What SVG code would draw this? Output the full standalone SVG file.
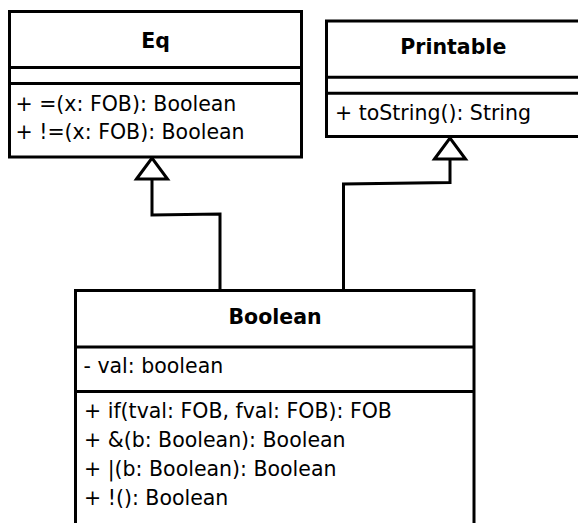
<svg xmlns="http://www.w3.org/2000/svg" width="578" height="523" viewBox="0 0 578 523">
  <style>
    .box { fill: #ffffff; stroke: #000000; stroke-width: 3; }
    .sep { stroke: #000000; stroke-width: 3; fill: none; }
    .conn { stroke: #000000; stroke-width: 3; fill: none; }
    text { font-family: "DejaVu Sans", "Liberation Sans", sans-serif; font-size: 20.5px; fill: #000000; }
    .title { font-weight: bold; text-anchor: middle; }
  </style>
  <defs>
    <marker id="hollow" markerUnits="userSpaceOnUse" viewBox="-3 -19 27 38" markerWidth="27" markerHeight="38" refX="21" refY="0" orient="auto-start-reverse">
      <path d="M0,-15.5 L21,0 L0,15.5 Z" fill="#ffffff" stroke="#000000" stroke-width="3"/>
    </marker>
  </defs>
  <rect width="578" height="523" fill="#ffffff"/>

  <g id="connectors">
    <path class="conn" d="M152,158 L152,215 L220,214 L220,290" marker-start="url(#hollow)"/>
    <path class="conn" d="M450,138 L450,182.5 L343.5,184 L343.5,290" marker-start="url(#hollow)"/>
  </g>

  <g id="Eq">
    <rect class="box" x="9.5" y="11.5" width="292" height="145.5"/>
    <line class="sep" x1="9.5" y1="67.5" x2="301.5" y2="67.5"/>
    <line class="sep" x1="9.5" y1="83.5" x2="301.5" y2="83.5"/>
    <text class="title" x="155.5" y="48">Eq</text>
    <text x="15.5" y="110.5">+ =(x: FOB): Boolean</text>
    <text x="15.5" y="139">+ !=(x: FOB): Boolean</text>
  </g>

  <g id="Printable">
    <rect class="box" x="326.5" y="21" width="253.5" height="115.5"/>
    <line class="sep" x1="326.5" y1="77.3" x2="580" y2="77.3"/>
    <line class="sep" x1="326.5" y1="93.3" x2="580" y2="93.3"/>
    <text class="title" x="453.3" y="54">Printable</text>
    <text x="335" y="120">+ toString(): String</text>
  </g>

  <g id="Boolean">
    <rect class="box" x="75.5" y="290.5" width="398.5" height="245"/>
    <line class="sep" x1="75.5" y1="347" x2="474" y2="347"/>
    <line class="sep" x1="75.5" y1="391.5" x2="474" y2="391.5"/>
    <text class="title" x="275" y="324">Boolean</text>
    <text x="83.5" y="373">- val: boolean</text>
    <text x="84" y="418">+ if(tval: FOB, fval: FOB): FOB</text>
    <text x="84" y="447">+ &amp;(b: Boolean): Boolean</text>
    <text x="84" y="476">+ |(b: Boolean): Boolean</text>
    <text x="84" y="505">+ !(): Boolean</text>
  </g>
</svg>
